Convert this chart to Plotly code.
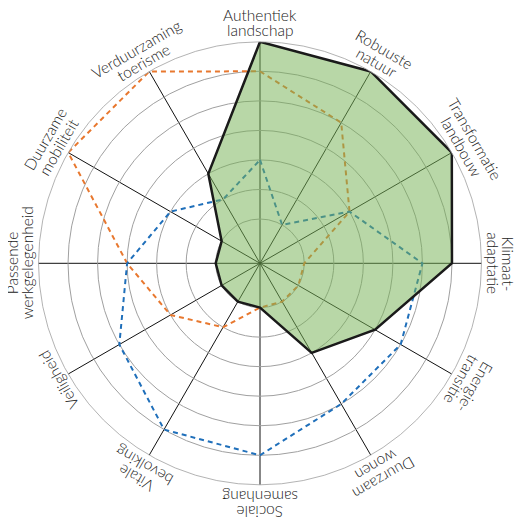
import math
import plotly.graph_objects as go

# ── Data ──────────────────────────────────────────────────────────────────────
categories = [
    "Authentiek landschap", "Robuuste natuur", "Transformatie landbouw",
    "Klimaat-adaptatie", "Energie-transitie", "Duurzaam wonen",
    "Sociale samenhang", "Vitale bevolking", "Veiligheid",
    "Passende werkgelegenheid", "Duurzame mobiliteit", "Verduurzaming toerisme",
]
label_lines = [
    ["Authentiek", "landschap"], ["Robuuste", "natuur"], ["Transformatie", "landbouw"],
    ["Klimaat-", "adaptatie"], ["Energie-", "transitie"], ["Duurzaam", "wonen"],
    ["Sociale", "samenhang"], ["Vitale", "bevolking"], ["Veiligheid"],
    ["Passende", "werkgelegenheid"], ["Duurzame", "mobiliteit"], ["Verduurzaming", "toerisme"],
]
green_values  = [7, 7, 7, 6, 4, 3, 1, 1, 1, 1, 1, 3]
orange_values = [6, 5, 3, 1, 1, 1, 1, 2, 3, 4, 7, 7]
blue_values   = [3, 1, 3, 5, 5, 5, 6, 6, 5, 4, 3, 2]
ring_values   = [1, 2, 3, 4, 5, 6, 7]

# page has an 8px body margin, so the figure is drawn 8px smaller and shifted
W, H = 517, 516
CX, CY = 252, 255.3        # polar centre in figure pixels
R_DOM = 221.5              # domain half-size (plotly insets the circle slightly)
R_LAB = 233                # radius of the innermost label line

def closed(vals):
    return vals + vals[:1]

theta = closed(categories)

fig = go.Figure()

fig.add_trace(go.Scatterpolar(
    r=closed(orange_values), theta=theta, mode="lines",
    line=dict(color="#e8782f", width=2, dash="5px,4px"),
    showlegend=False, hoverinfo="skip",
))
fig.add_trace(go.Scatterpolar(
    r=closed(blue_values), theta=theta, mode="lines",
    line=dict(color="#1f6fba", width=2, dash="5px,4px"),
    showlegend=False, hoverinfo="skip",
))
fig.add_trace(go.Scatterpolar(
    r=closed(green_values), theta=theta, mode="lines",
    fill="toself", fillcolor="rgba(118,178,86,0.52)",
    line=dict(color="#1a1a1a", width=2.5),
    showlegend=False, hoverinfo="skip",
))

# ── Rotated category labels ───────────────────────────────────────────────────
annotations = []
for i, lines in enumerate(label_lines):
    ang = 360 / len(categories) * i
    n = len(lines)
    for j, txt in enumerate(lines):
        rad = R_LAB + 15 * (n - 1 - j)
        px = CX + rad * math.sin(math.radians(ang))
        py = CY - rad * math.cos(math.radians(ang))
        annotations.append(dict(
            x=px / W, y=1 - py / H, xref="paper", yref="paper",
            text=txt, showarrow=False,
            xanchor="center", yanchor="middle",
            textangle=ang if ang <= 180 else ang - 360,
            font=dict(family="Lato", size=15.5, color="#222222", weight=300),
        ))

fig.update_layout(
    width=W, height=H,
    margin=dict(l=0, r=0, t=0, b=0),
    paper_bgcolor="white",
    polar=dict(
        domain=dict(x=[(CX - R_DOM) / W, (CX + R_DOM) / W],
                    y=[1 - (CY + R_DOM) / H, 1 - (CY - R_DOM) / H]),
        bgcolor="white",
        angularaxis=dict(
            type="category", categoryarray=categories,
            rotation=90, direction="clockwise",
            showticklabels=False, ticks="",
            showgrid=True, gridcolor="#111111", gridwidth=1,
            showline=True, linecolor="#a0a0a0", linewidth=0.8,
        ),
        radialaxis=dict(
            range=[-0.5, 7], tickvals=ring_values,
            showticklabels=False, ticks="", showline=False,
            showgrid=True, gridcolor="#a0a0a0", gridwidth=0.8,
        ),
    ),
    annotations=annotations,
)

fig.write_html("out.html")
